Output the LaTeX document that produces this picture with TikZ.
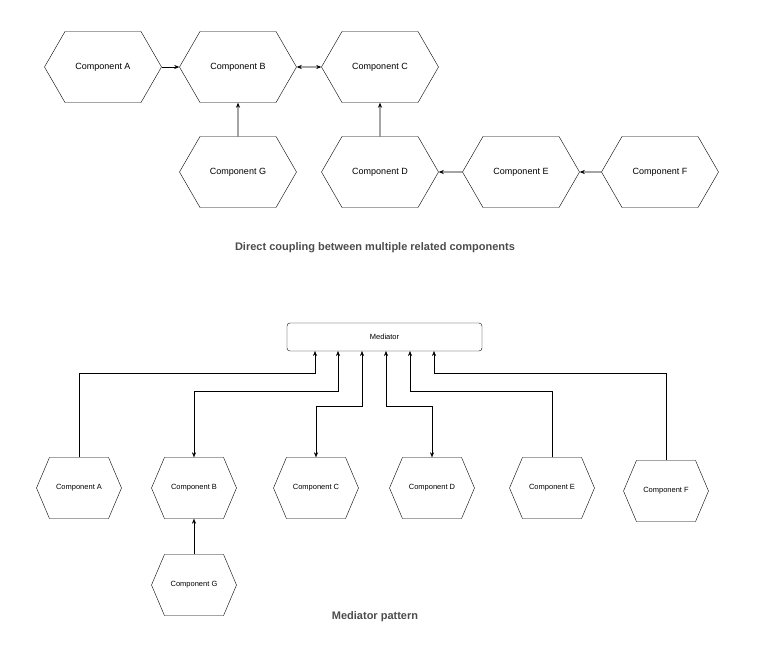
\documentclass[tikz,border=0pt]{standalone}
\usepackage{fontspec}
\setmainfont{Liberation Sans}
\usetikzlibrary{arrows.meta,shapes.symbols}

\begin{document}
\begin{tikzpicture}[x=1pt,y=-1pt,>={Stealth[length=5pt,width=4pt]},
                    thin]

  \tikzstyle{hex}=[signal,signal to=west and east,draw,inner sep=0pt,
                   font=\fontsize{9}{11}\selectfont]
  \tikzstyle{big}=[hex,minimum width=117pt,minimum height=71pt,signal pointer angle=120]
  \tikzstyle{small}=[hex,minimum width=85pt,minimum height=61pt,signal pointer angle=134,
                     font=\fontsize{7.5}{9}\selectfont]
  \tikzstyle{caption}=[font=\bfseries\fontsize{11}{13}\selectfont,text=black!70]

  \useasboundingbox (0,0) rectangle (757,666);

  % direct coupling
  \node[big] (A) at (103,67)  {Component A};
  \node[big] (B) at (238,67)  {Component B};
  \node[big] (C) at (380,67)  {Component C};
  \node[big] (G) at (238,172) {Component G};
  \node[big] (D) at (380,172) {Component D};
  \node[big] (E) at (521,172) {Component E};
  \node[big] (F) at (660,172) {Component F};
  \node[caption] (cap1) at (375,248) {Direct coupling between multiple related components};

  \path[semithick]
  (A) edge[->]  (B)
  (B) edge[<->] (C)
  (G) edge[->]  (B)
  (D) edge[->]  (C)
  (E) edge[->]  (D)
  (F) edge[->]  (E)
  ;

  % mediator
  \node[draw,rounded corners=3pt,minimum width=195pt,minimum height=28pt,
        font=\fontsize{7.5}{9}\selectfont] (M) at (384.5,337) {Mediator};
  \node[small] (mA) at (79,488)  {Component A};
  \node[small] (mB) at (194,488) {Component B};
  \node[small] (mC) at (316,488) {Component C};
  \node[small] (mD) at (432,488) {Component D};
  \node[small] (mE) at (552,488) {Component E};
  \node[small] (mF) at (666,491) {Component F};
  \node[small] (mG) at (194,585) {Component G};
  \node[caption] (cap2) at (375,617) {Mediator pattern};

  \coordinate (pA) at (315,351);
  \coordinate (pB) at (338,351);
  \coordinate (pC) at (362,351);
  \coordinate (pD) at (386,351);
  \coordinate (pE) at (410,351);
  \coordinate (pF) at (434,351);

  \draw[->]  (mA.north) |- ([yshift=-22pt]pA) -- (pA);
  \draw[<->] (mB.north) |- ([yshift=-40pt]pB) -- (pB);
  \draw[<->] (mC.north) |- ([yshift=-55pt]pC) -- (pC);
  \draw[<->] (mD.north) |- ([yshift=-55pt]pD) -- (pD);
  \draw[->]  (mE.north) |- ([yshift=-40pt]pE) -- (pE);
  \draw[->]  (mF.north) |- ([yshift=-22pt]pF) -- (pF);
  \draw[->]  (mG.north) -- (mB.south);
\end{tikzpicture}
\end{document}
